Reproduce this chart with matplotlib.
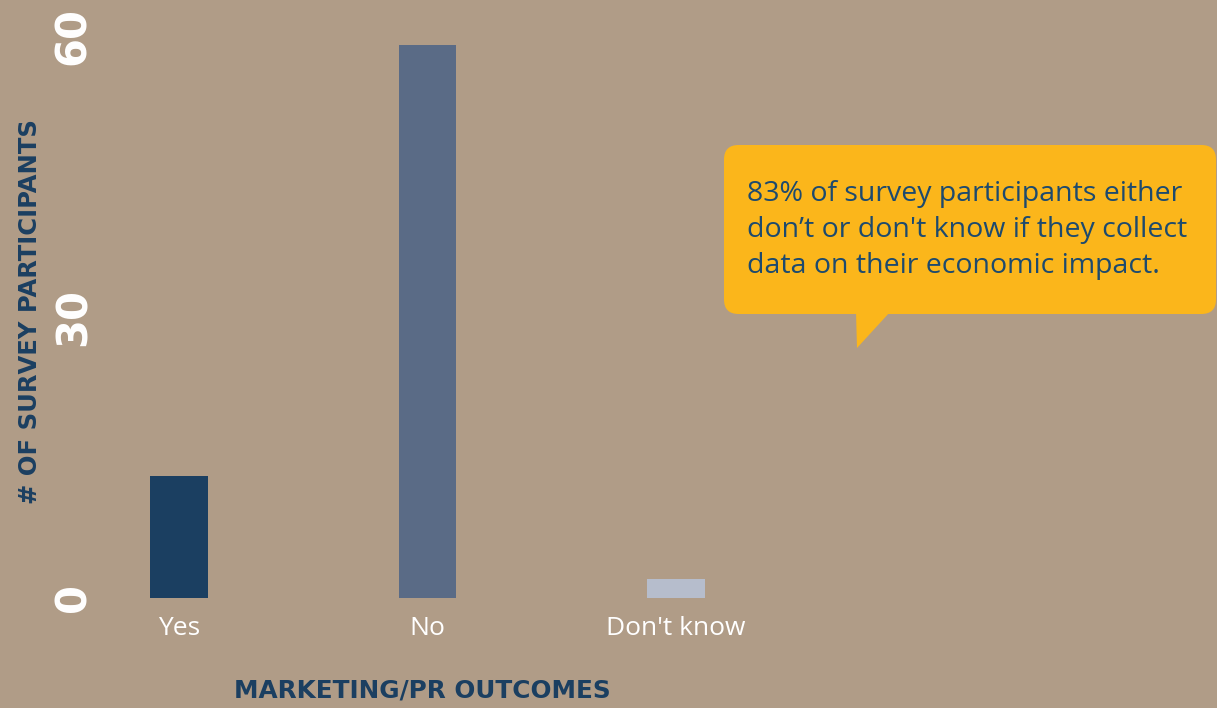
import matplotlib.pyplot as plt
from matplotlib.patches import FancyBboxPatch, Polygon

# survey answers
categories = ["Yes", "No", "Don't know"]
counts = [13, 59, 2]
bar_colors = ["#1b3f61", "#5a6b86", "#b6bdcc"]
y_ticks = [0, 30, 60]
callout = ("83% of survey participants either\n"
           "don\u2019t or don't know if they collect\n"
           "data on their economic impact.")

BG = "#b09c87"
NAVY = "#1b3f61"
BODY = "Open Sans"
HEAD = "DejaVu Sans"
W, H = 1217, 708

fig = plt.figure(figsize=(W / 100, H / 100), dpi=100, facecolor=BG)

# axes placed in pixel terms: x=0 at px 179, step 248.5 px; y=0 at px 598, y=60 at px 36
left_px, right_px = 97, 800
ax = fig.add_axes([left_px / W, (H - 598) / H, (right_px - left_px) / W, 562 / H])
ax.set_facecolor("none")

x = list(range(len(categories)))
ax.bar(x, counts, width=0.233, color=bar_colors)
ax.set_xlim(-(179 - left_px) / 248.5, (right_px - 179) / 248.5)
ax.set_ylim(0, 60)

for s in ax.spines.values():
    s.set_visible(False)

ax.set_xticks(x)
ax.set_xticklabels(categories, fontsize=19, color="white", family=BODY)
ax.tick_params(axis="x", length=0, pad=13)

ax.set_yticks(y_ticks)
ax.set_yticklabels([str(v) for v in y_ticks], rotation=90, va="center",
                   fontsize=30, fontweight="bold", color="white", family=HEAD)
ax.tick_params(axis="y", length=0, pad=2)

fig.text(30 / W, 1 - 312 / H, "# OF SURVEY PARTICIPANTS", rotation=90,
         ha="center", va="center", fontsize=17.5, fontweight="bold",
         color=NAVY, family=HEAD)
fig.text(422 / W, 1 - 690 / H, "MARKETING/PR OUTCOMES", ha="center",
         va="center", fontsize=17.8, fontweight="bold", color=NAVY, family=HEAD)

# speech bubble with its tail
tr = fig.transFigure
box = FancyBboxPatch((724 / W, 1 - 314 / H), (1216 - 724) / W, (314 - 145) / H,
                     boxstyle="round,pad=0,rounding_size=0.012",
                     transform=tr, facecolor="#fbb61b", edgecolor="none",
                     mutation_aspect=W / H)
fig.patches.append(box)
tail = Polygon([(856 / W, 1 - 312 / H), (890 / W, 1 - 312 / H), (857 / W, 1 - 348 / H)],
               closed=True, transform=tr, facecolor="#fbb61b", edgecolor="none")
fig.patches.append(tail)
fig.text(747 / W, 1 - 230 / H, callout, ha="left", va="center", fontsize=20.5,
         color="#1d4a6e", family=BODY, linespacing=1.37)

fig.savefig("out.png", dpi=100, facecolor=BG)
